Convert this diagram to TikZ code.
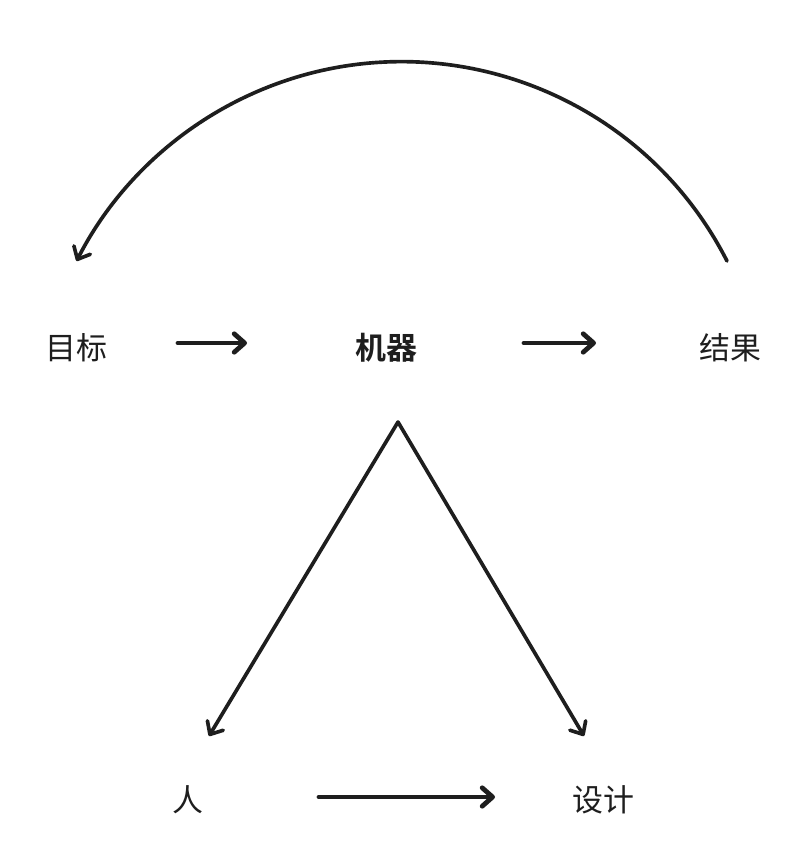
\documentclass[tikz,border=0pt]{standalone}
\usepackage{fontspec}
\newfontfamily\cjk[BoldFont={Noto Sans CJK SC Bold}]{Noto Sans CJK SC}
\usetikzlibrary{arrows.meta,positioning}
\definecolor{ink}{HTML}{1E1E1E}
\tikzset{
  word/.style={inner sep=0pt,text=ink,font=\cjk\fontsize{22pt}{26pt}\selectfont},
  keyword/.style={word,font=\cjk\bfseries\fontsize{22pt}{26pt}\selectfont},
  flowarr/.style={-{Straight Barb[length=2.6mm,width=4.6mm,line join=round,line cap=round]},
                  line width=2.6pt,color=ink,line cap=round,line join=round},
  heavyarr/.style={flowarr,line width=3.4pt}
}
\begin{document}
\begin{tikzpicture}[x=0.025cm,y=-0.025cm]
  \useasboundingbox (0,0) rectangle (808,861);
  % labels
  \node[word] (goal) at (76,348) {目标};
  \node[keyword] (machine) at (386,348) {机器};
  \node[word] (result) at (730,348) {结果};
  \node[word] (person) at (188,800) {人};
  \node[word] (design) at (603,800) {设计};

  % arrow ends
  \coordinate (goalout) at (178,343);
  \coordinate (machinein) at (247,343);
  \coordinate (machineout) at (524,343);
  \coordinate (resultin) at (596,343);
  \coordinate (personout) at (319,797);
  \coordinate (designin) at (495,797);
  \coordinate (apex) at (398,422);
  \coordinate (personin) at (209,736);
  \coordinate (designtop) at (584,736);
  \coordinate (loopstart) at (727,261);

  \draw[heavyarr] (goalout) -- (machinein);
  \draw[heavyarr] (machineout) -- (resultin);
  \draw[heavyarr] (personout) -- (designin);
  \draw[flowarr] (apex) -- (personin);
  \draw[flowarr] (apex) -- (designtop);
  \draw[flowarr] (loopstart) arc[start angle=-27,end angle=-153,radius=365];
\end{tikzpicture}
\end{document}
